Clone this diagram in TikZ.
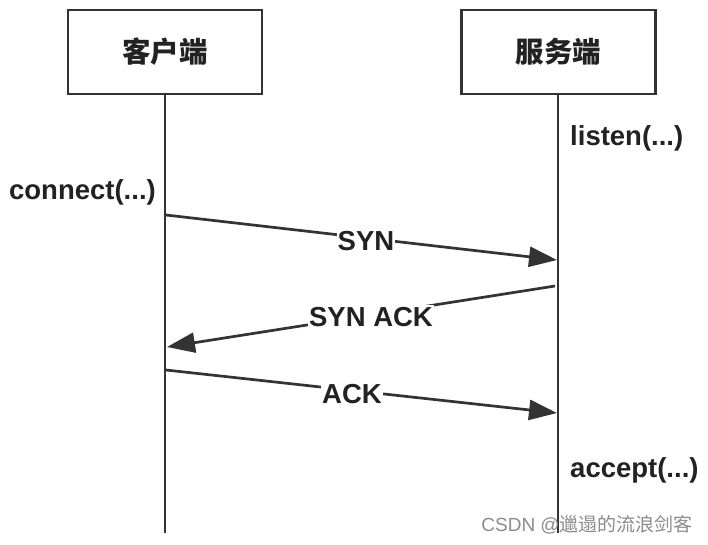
\documentclass[tikz,border=0pt]{standalone}
\usepackage{fontspec}
\setmainfont{Liberation Sans}
\newfontfamily\cjk{Noto Sans CJK SC}
\usetikzlibrary{arrows.meta}
\definecolor{ln}{HTML}{333333}
\definecolor{tx}{HTML}{222222}
\begin{document}
\begin{tikzpicture}[x=1pt,y=-1pt,
  actor/.style={draw=ln,line width=2.8pt,fill=white,minimum width=194pt,minimum height=84pt,inner sep=0pt,font=\cjk\bfseries\fontsize{28.5}{32}\selectfont,text=tx},
  life/.style={draw=ln,line width=2.7pt},
  msg/.style={draw=ln,line width=2.7pt,-{Triangle[length=28pt,width=20pt]}},
  mlabel/.style={fill=white,inner xsep=1pt,inner ysep=2pt,font=\bfseries\fontsize{27.5}{30}\selectfont,text=tx},
  note/.style={inner sep=0pt,font=\bfseries\fontsize{27.5}{30}\selectfont,text=tx},
  wm/.style={inner sep=0pt,text=black!45,font=\fontsize{19}{21}\selectfont}]
\useasboundingbox (0,0) rectangle (708,544);
\fill[white] (0,0) rectangle (708,544);
\coordinate (c0) at (165,94);
\coordinate (c1) at (165,533);
\coordinate (s0) at (558,94);
\coordinate (s1) at (558,533);
\draw[life] (c0) -- (c1);
\draw[life] (s0) -- (s1);
\node[actor] (client) at (165,52) {客户端};
\node[actor] (server) at (558.5,52) {服务端};
\node[note,anchor=base west] (listen) at (570,145) {listen(...)};
\node[note,anchor=base east] (connect) at (156,199) {connect(...)};
\node[note,anchor=base west] (accept) at (570,477) {accept(...)};
\coordinate (a1s) at (166,215);
\coordinate (a1e) at (557,260);
\coordinate (a2s) at (555,286);
\coordinate (a2e) at (167,347);
\coordinate (a3s) at (166,370);
\coordinate (a3e) at (557,413);
\draw[msg] (a1s) -- (a1e);
\draw[msg] (a2s) -- (a2e);
\draw[msg] (a3s) -- (a3e);
\node[mlabel,anchor=base] (syn) at (366,250) {SYN};
\node[mlabel,anchor=base] (synack) at (371,326) {SYN ACK};
\node[mlabel,anchor=base] (ack) at (352,403) {ACK};
\node[wm,anchor=base east] (mark) at (693,531) {CSDN @{\cjk 邋遢的流浪剑客}};
\end{tikzpicture}
\end{document}
